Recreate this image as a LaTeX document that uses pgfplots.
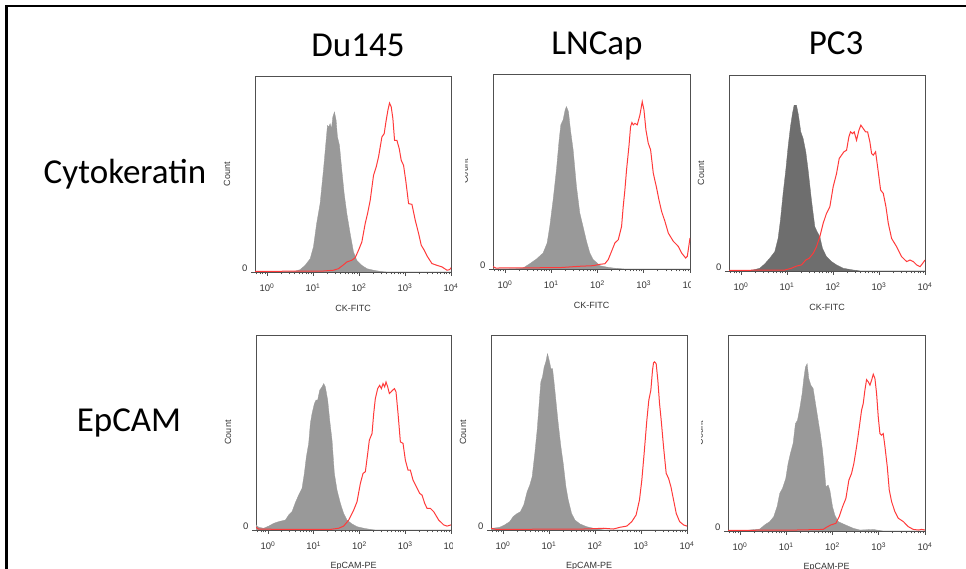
\documentclass[border=0pt]{standalone}
\usepackage{pgfplots}
\pgfplotsset{compat=1.18}
\usepackage{fontspec}
\setmainfont{Liberation Sans}
\newfontfamily\calibri{Carlito}
\definecolor{histgray}{HTML}{999999}
\definecolor{histdark}{HTML}{6E6E6E}
\definecolor{histred}{HTML}{FF3A3A}
\definecolor{axgray}{HTML}{505050}
\pgfplotsset{
  facs/.style={
    scale only axis, width=196pt, height=196pt, anchor=south west,
    xmin=-0.26, xmax=4, ymin=0, ymax=1,
    xtick={0,1,2,3,4},
    xticklabels={10\textsuperscript{0},10\textsuperscript{1},10\textsuperscript{2},10\textsuperscript{3},10\textsuperscript{4}},
    minor xtick={-0.222,-0.155,-0.097,-0.046,
      0.301,0.477,0.602,0.699,0.778,0.845,0.903,0.954,
      1.301,1.477,1.602,1.699,1.778,1.845,1.903,1.954,
      2.301,2.477,2.602,2.699,2.778,2.845,2.903,2.954,
      3.301,3.477,3.602,3.699,3.778,3.845,3.903,3.954},
    ytick={0}, yticklabels={0},
    xtick pos=left, ytick pos=left,
    tick align=outside,
    major tick length=4pt, minor tick length=2.5pt,
    every tick/.style={axgray, line width=0.6pt},
    axis line style={axgray, line width=0.8pt},
    ticklabel style={font=\fontsize{9.5}{10}\selectfont, text=black!80},
    xticklabel style={anchor=base, yshift=-16pt},
    yticklabel style={anchor=base east},
    label style={font=\fontsize{9}{10}\selectfont, text=black!80},
    xlabel style={at={(axis description cs:0.5,-0.185)}, anchor=center},
    ylabel style={at={(axis description cs:-0.143,0.5)}, anchor=center},
    ylabel={Count},
  },
  grayh/.style={fill=histgray, draw=histgray, line width=0.3pt},
  darkh/.style={fill=histdark, draw=histdark, line width=0.3pt},
  redh/.style={draw=histred, line width=1pt, no marks},
}
\begin{document}
\begin{tikzpicture}
\useasboundingbox (0pt,0pt) rectangle (966pt,569pt);
\clip (0pt,0pt) rectangle (966pt,569pt);

% ---------- LNCap / Cytokeratin ----------
\begin{axis}[facs, at={(493pt,300pt)}, width=197pt, height=195pt, xlabel={CK-FITC}]
\addplot[grayh] coordinates {(-0.26,0) (0.3,0.002) (0.39,0.005) (0.534,0.027) (0.679,0.051) (0.823,0.082) (0.910,0.133) (0.967,0.218) (1.040,0.355) (1.112,0.509) (1.170,0.662) (1.206,0.739) (1.256,0.765) (1.300,0.816) (1.328,0.833) (1.372,0.807) (1.415,0.713) (1.473,0.611) (1.545,0.423) (1.617,0.287) (1.704,0.201) (1.762,0.142) (1.834,0.082) (1.906,0.048) (1.978,0.034) (2.050,0.017) (2.195,0.010) (2.339,0.005) (2.484,0.002) (2.6,0) (4,0)} \closedcycle;
\addplot[redh] coordinates {(-0.26,0.012) (-0.2,0.005) (1.184,0.007) (1.617,0.014) (1.906,0.017) (2.050,0.024) (2.159,0.027) (2.231,0.048) (2.303,0.090) (2.375,0.133) (2.448,0.150) (2.520,0.218) (2.556,0.321) (2.592,0.406) (2.628,0.509) (2.679,0.628) (2.715,0.730) (2.744,0.751) (2.773,0.739) (2.809,0.747) (2.859,0.739) (2.917,0.790) (2.967,0.858) (3.004,0.816) (3.047,0.713) (3.097,0.645) (3.148,0.611) (3.206,0.491) (3.278,0.415) (3.328,0.355) (3.386,0.295) (3.458,0.244) (3.531,0.184) (3.639,0.142) (3.747,0.116) (3.819,0.082) (3.906,0.056) (3.942,0.065) (4.0,0.159)};
\end{axis}

% ---------- Du145 / Cytokeratin ----------
\fill[white] (215pt,254pt) rectangle (465pt,507pt);
\begin{axis}[facs, at={(255pt,297pt)}, xlabel={CK-FITC}]
\addplot[grayh] coordinates {(-0.26,0) (0.6,0.003) (0.72,0.012) (0.83,0.034) (0.94,0.068) (1.01,0.128) (1.08,0.247) (1.155,0.349) (1.228,0.520) (1.286,0.672) (1.315,0.748) (1.344,0.740) (1.373,0.757) (1.402,0.731) (1.431,0.791) (1.467,0.816) (1.503,0.774) (1.532,0.689) (1.576,0.646) (1.627,0.519) (1.678,0.400) (1.736,0.298) (1.808,0.196) (1.881,0.102) (1.953,0.059) (2.062,0.034) (2.171,0.017) (2.316,0.009) (2.461,0.003) (2.607,0) (4,0)} \closedcycle;
\addplot[redh] coordinates {(-0.26,0.003) (1.228,0.005) (1.445,0.009) (1.554,0.017) (1.649,0.034) (1.736,0.051) (1.844,0.060) (1.917,0.073) (1.990,0.111) (2.062,0.153) (2.135,0.247) (2.186,0.298) (2.244,0.366) (2.316,0.493) (2.374,0.536) (2.425,0.587) (2.498,0.689) (2.548,0.706) (2.585,0.765) (2.628,0.825) (2.664,0.862) (2.701,0.842) (2.737,0.782) (2.773,0.672) (2.824,0.672) (2.875,0.629) (2.918,0.570) (2.969,0.544) (3.020,0.460) (3.078,0.349) (3.151,0.345) (3.223,0.264) (3.296,0.196) (3.354,0.136) (3.419,0.111) (3.492,0.077) (3.586,0.043) (3.695,0.034) (3.804,0.026) (3.913,0.009) (3.971,0.012) (4.0,0.022)};
\end{axis}

% ---------- PC3 / Cytokeratin ----------
\fill[white] (691pt,254pt) rectangle (966pt,507pt);
\begin{axis}[facs, at={(729pt,298pt)}, xlabel={CK-FITC}]
\addplot[darkh] coordinates {(-0.26,0) (0.1,0.002) (0.262,0.005) (0.408,0.014) (0.516,0.036) (0.625,0.065) (0.734,0.098) (0.807,0.166) (0.858,0.260) (0.916,0.396) (0.974,0.514) (1.024,0.633) (1.075,0.735) (1.119,0.803) (1.155,0.846) (1.206,0.846) (1.249,0.795) (1.300,0.710) (1.351,0.676) (1.409,0.608) (1.460,0.514) (1.532,0.362) (1.605,0.226) (1.656,0.200) (1.714,0.175) (1.772,0.115) (1.859,0.073) (1.968,0.048) (2.077,0.031) (2.222,0.014) (2.440,0.005) (2.512,0.003) (2.6,0) (4,0)} \closedcycle;
\addplot[redh] coordinates {(-0.26,0.003) (0.952,0.005) (1.097,0.014) (1.206,0.025) (1.315,0.031) (1.409,0.056) (1.482,0.065) (1.569,0.090) (1.641,0.124) (1.714,0.175) (1.786,0.243) (1.859,0.294) (1.932,0.328) (2.004,0.430) (2.077,0.497) (2.135,0.574) (2.186,0.591) (2.237,0.608) (2.295,0.616) (2.345,0.684) (2.382,0.710) (2.425,0.701) (2.461,0.710) (2.512,0.667) (2.563,0.718) (2.606,0.744) (2.657,0.727) (2.708,0.710) (2.752,0.710) (2.802,0.659) (2.839,0.599) (2.875,0.591) (2.926,0.608) (2.984,0.506) (3.035,0.413) (3.093,0.396) (3.151,0.328) (3.202,0.243) (3.274,0.166) (3.383,0.124) (3.492,0.073) (3.601,0.048) (3.673,0.056) (3.746,0.048) (3.818,0.031) (3.891,0.022) (3.949,0.039) (4.0,0.056)};
\end{axis}

% ---------- Du145 / EpCAM ----------
\begin{axis}[facs, at={(256pt,39pt)}, width=195pt, height=195pt, xlabel={EpCAM-PE}]
\addplot[grayh] coordinates {(-0.26,0.026) (-0.202,0.014) (-0.092,0.009) (0.017,0.020) (0.126,0.034) (0.235,0.043) (0.381,0.051) (0.454,0.077) (0.527,0.094) (0.599,0.140) (0.672,0.179) (0.745,0.213) (0.796,0.290) (0.840,0.375) (0.891,0.444) (0.927,0.546) (0.964,0.597) (1.015,0.648) (1.051,0.666) (1.087,0.666) (1.131,0.717) (1.182,0.734) (1.219,0.751) (1.255,0.734) (1.306,0.666) (1.350,0.563) (1.401,0.461) (1.452,0.290) (1.510,0.205) (1.583,0.137) (1.655,0.085) (1.728,0.051) (1.838,0.031) (1.947,0.017) (2.093,0.009) (2.238,0.003) (2.35,0) (4,0)} \closedcycle;
\addplot[redh] coordinates {(-0.26,0.014) (-0.2,0.004) (1.364,0.003) (1.546,0.009) (1.655,0.020) (1.765,0.051) (1.874,0.102) (1.947,0.145) (2.020,0.239) (2.078,0.290) (2.129,0.299) (2.180,0.392) (2.216,0.461) (2.275,0.495) (2.311,0.597) (2.347,0.674) (2.398,0.725) (2.442,0.742) (2.479,0.725) (2.515,0.751) (2.551,0.734) (2.580,0.759) (2.617,0.734) (2.653,0.700) (2.690,0.708) (2.726,0.717) (2.763,0.725) (2.799,0.708) (2.843,0.597) (2.894,0.452) (2.952,0.444) (3.003,0.358) (3.061,0.307) (3.112,0.307) (3.170,0.256) (3.243,0.222) (3.316,0.188) (3.367,0.179) (3.425,0.137) (3.476,0.111) (3.549,0.111) (3.622,0.094) (3.731,0.051) (3.841,0.026) (3.913,0.020) (4.0,0.026)};
\end{axis}

% ---------- PC3 / EpCAM ----------
\begin{axis}[facs, at={(728pt,38pt)}, width=197pt, height=196pt, xlabel={EpCAM-PE}]
\addplot[grayh] coordinates {(-0.26,0) (0.1,0.002) (0.209,0.005) (0.426,0.010) (0.534,0.031) (0.643,0.048) (0.729,0.073) (0.801,0.124) (0.859,0.192) (0.917,0.217) (0.989,0.268) (1.040,0.345) (1.090,0.396) (1.148,0.447) (1.198,0.548) (1.242,0.565) (1.292,0.625) (1.343,0.701) (1.379,0.778) (1.415,0.837) (1.451,0.854) (1.487,0.778) (1.531,0.744) (1.581,0.727) (1.632,0.650) (1.689,0.565) (1.740,0.489) (1.783,0.413) (1.819,0.328) (1.856,0.226) (1.906,0.234) (1.942,0.209) (2.000,0.124) (2.050,0.081) (2.123,0.048) (2.231,0.036) (2.339,0.025) (2.448,0.014) (2.592,0.005) (2.881,0.008) (2.953,0.005) (3.1,0) (4,0)} \closedcycle;
\addplot[redh] coordinates {(-0.26,0.003) (1.220,0.005) (1.798,0.008) (1.870,0.019) (1.964,0.031) (2.072,0.039) (2.144,0.073) (2.217,0.124) (2.289,0.166) (2.354,0.260) (2.412,0.294) (2.462,0.345) (2.520,0.430) (2.570,0.514) (2.628,0.616) (2.664,0.650) (2.700,0.718) (2.736,0.772) (2.773,0.761) (2.809,0.744) (2.845,0.769) (2.881,0.800) (2.917,0.778) (2.953,0.701) (2.989,0.582) (3.025,0.497) (3.061,0.489) (3.097,0.497) (3.134,0.430) (3.184,0.328) (3.227,0.209) (3.278,0.149) (3.350,0.098) (3.422,0.065) (3.531,0.048) (3.639,0.022) (3.747,0.008) (3.855,0.005) (3.928,0.008) (4.0,0.005)};
\end{axis}

% ---------- LNCap / EpCAM ----------
\fill[white] (452.5pt,0pt) rectangle (700.5pt,251pt);
\begin{axis}[facs, at={(491pt,39pt)}, width=196pt, height=195pt, xlabel={EpCAM-PE}]
\addplot[grayh] coordinates {(-0.26,0.005) (-0.216,0.009) (-0.071,0.014) (0.038,0.026) (0.147,0.043) (0.220,0.068) (0.292,0.082) (0.380,0.094) (0.452,0.128) (0.525,0.196) (0.583,0.230) (0.634,0.273) (0.692,0.392) (0.743,0.512) (0.787,0.648) (0.823,0.759) (0.859,0.785) (0.896,0.836) (0.932,0.862) (0.968,0.904) (1.005,0.870) (1.041,0.828) (1.077,0.828) (1.106,0.768) (1.150,0.666) (1.201,0.546) (1.259,0.427) (1.310,0.341) (1.368,0.222) (1.419,0.154) (1.491,0.085) (1.564,0.051) (1.673,0.031) (1.818,0.017) (1.964,0.009) (2.109,0.003) (2.2,0) (4,0)} \closedcycle;
\addplot[redh] coordinates {(-0.26,0.009) (-0.144,0.003) (1.746,0.005) (2.0,0.007) (2.182,0.009) (2.4,0.005) (2.545,0.014) (2.691,0.020) (2.800,0.043) (2.894,0.077) (2.967,0.154) (3.018,0.256) (3.068,0.392) (3.127,0.563) (3.170,0.666) (3.214,0.717) (3.250,0.819) (3.272,0.857) (3.294,0.862) (3.330,0.853) (3.366,0.768) (3.403,0.648) (3.439,0.563) (3.490,0.427) (3.548,0.290) (3.599,0.265) (3.650,0.222) (3.708,0.154) (3.766,0.085) (3.839,0.043) (3.926,0.026) (4.0,0.020)};
\end{axis}

% ---------- titles ----------
\node[anchor=base, font=\calibri\fontsize{35}{40}\selectfont] at (358pt,512pt) {Du145};
\node[anchor=base, font=\calibri\fontsize{35}{40}\selectfont] at (597pt,514pt) {LNCap};
\node[anchor=base, font=\calibri\fontsize{35}{40}\selectfont] at (836pt,514pt) {PC3};
\node[anchor=base, font=\calibri\fontsize{35}{40}\selectfont] at (125pt,385pt) {Cytokeratin};
\node[anchor=base, font=\calibri\fontsize{35}{40}\selectfont] at (129pt,137pt) {EpCAM};

% ---------- frame ----------
\draw[line width=2.7pt, line join=miter] (6.5pt,0pt) -- (6.5pt,563pt) -- (966pt,563pt);
\end{tikzpicture}
\end{document}
